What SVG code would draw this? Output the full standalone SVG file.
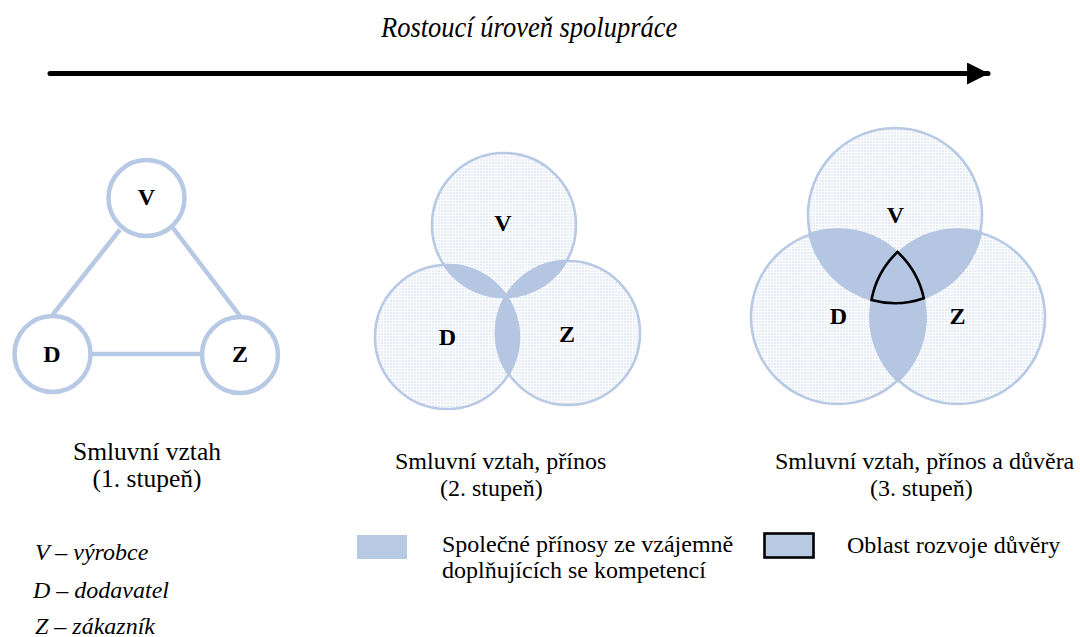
<svg xmlns="http://www.w3.org/2000/svg" width="1080" height="637" viewBox="0 0 1080 637">
<style>
.t{font-family:"Liberation Serif","Times New Roman",serif;font-size:24px;fill:#000}
.tc{font-family:"Liberation Serif","Times New Roman",serif;font-size:25.5px;fill:#000;text-anchor:middle}
.ti{font-family:"Liberation Serif","Times New Roman",serif;font-size:24px;font-style:italic;fill:#000}
.lb{font-family:"Liberation Serif","Times New Roman",serif;font-size:24px;font-weight:bold;fill:#000;text-anchor:middle}
.n1{fill:#fff;stroke:#b7c9e4;stroke-width:4.5}
.n2{fill:url(#tex);stroke:#b7c9e4;stroke-width:2.6}
.pet{fill:#b4c6e2}
.ln{stroke:#b7c9e4;stroke-width:4.5;fill:none}
</style>
<defs>
<pattern id="tex" width="3" height="3" patternUnits="userSpaceOnUse">
<rect width="3" height="3" fill="#ffffff"/>
<rect width="2" height="2" fill="#e6ecf5"/>
</pattern>
<clipPath id="c2V"><circle cx="504" cy="225" r="73.3"/></clipPath>
<clipPath id="c2D"><circle cx="447" cy="337" r="73.3"/></clipPath>
<clipPath id="c3V"><circle cx="895" cy="215" r="89"/></clipPath>
<clipPath id="c3D"><circle cx="838" cy="317" r="89"/></clipPath>
<marker id="ah" markerWidth="4.4" markerHeight="4.4" refX="4.2" refY="2.2" orient="auto" markerUnits="strokeWidth"><path d="M0,0 L4.4,2.2 L0,4.4 Z" fill="#000"/></marker>
</defs>
<rect width="1080" height="637" fill="#fff"/>

<text class="ti" transform="translate(381,37) scale(1,1.12)" x="0" y="0" style="font-size:26.5px">Rostoucí úroveň spolupráce</text>

<g id="connectors">
<line x1="50" y1="73.5" x2="988" y2="73.5" stroke="#000" stroke-width="5" stroke-linecap="round" marker-end="url(#ah)"/>
<line class="ln" x1="120" y1="229.5" x2="52.5" y2="315"/>
<line class="ln" x1="173" y1="228" x2="240" y2="316"/>
<line class="ln" x1="91" y1="354" x2="202" y2="354"/>
</g>

<g id="p1-V"><circle class="n1" cx="146.5" cy="198" r="38"/><text class="lb" x="146.5" y="205">V</text></g>
<g id="p1-D"><circle class="n1" cx="52.5" cy="354" r="38"/><text class="lb" x="52" y="362">D</text></g>
<g id="p1-Z"><circle class="n1" cx="240" cy="355" r="38"/><text class="lb" x="240" y="362">Z</text></g>

<g id="p2">
<circle class="n2" cx="504" cy="225" r="72"/>
<circle class="n2" cx="447" cy="337" r="72"/>
<circle class="n2" cx="568" cy="333" r="72"/>
<circle class="pet" cx="447" cy="337" r="73.3" clip-path="url(#c2V)"/>
<circle class="pet" cx="568" cy="333" r="73.3" clip-path="url(#c2V)"/>
<circle class="pet" cx="568" cy="333" r="73.3" clip-path="url(#c2D)"/>
<text class="lb" x="503" y="231">V</text>
<text class="lb" x="447.5" y="345">D</text>
<text class="lb" x="567" y="342">Z</text>
</g>

<g id="p3">
<circle class="n2" cx="895" cy="215" r="87"/>
<circle class="n2" cx="838" cy="317" r="87"/>
<circle class="n2" cx="958" cy="317" r="87"/>
<circle class="pet" cx="838" cy="317" r="89" clip-path="url(#c3V)"/>
<circle class="pet" cx="958" cy="317" r="89" clip-path="url(#c3V)"/>
<circle class="pet" cx="958" cy="317" r="89" clip-path="url(#c3D)"/>
<path id="trust" d="M897.5,252 A88,88 0 0 1 923.8,298.2 A88,88 0 0 1 871.5,300 A88,88 0 0 1 897.5,252 Z" fill="none" stroke="#000" stroke-width="2.6" stroke-linejoin="miter"/>
<text class="lb" x="895.5" y="223">V</text>
<text class="lb" x="838.5" y="324">D</text>
<text class="lb" x="957.5" y="324">Z</text>
</g>

<g id="captions">
<text class="tc" x="147" y="460">Smluvní vztah</text>
<text class="tc" x="147" y="487">(1. stupeň)</text>
<text class="t" x="395" y="469">Smluvní vztah, přínos</text>
<text class="t" x="440" y="496">(2. stupeň)</text>
<text class="t" x="775" y="469">Smluvní vztah, přínos a důvěra</text>
<text class="t" x="870" y="496">(3. stupeň)</text>
</g>

<g id="legend">
<text class="ti" x="35" y="560">V – výrobce</text>
<text class="ti" x="33" y="598">D – dodavatel</text>
<text class="ti" x="35" y="634">Z – zákazník</text>
<rect x="357" y="535" width="50" height="24" fill="#b8c9e3"/>
<text class="t" x="442" y="552">Společné přínosy ze vzájemně</text>
<text class="t" x="442" y="578">doplňujících se kompetencí</text>
<rect x="764.5" y="533.5" width="49" height="24" fill="#b8c9e3" stroke="#000" stroke-width="2.6"/>
<text class="t" x="847" y="553">Oblast rozvoje důvěry</text>
</g>
</svg>
